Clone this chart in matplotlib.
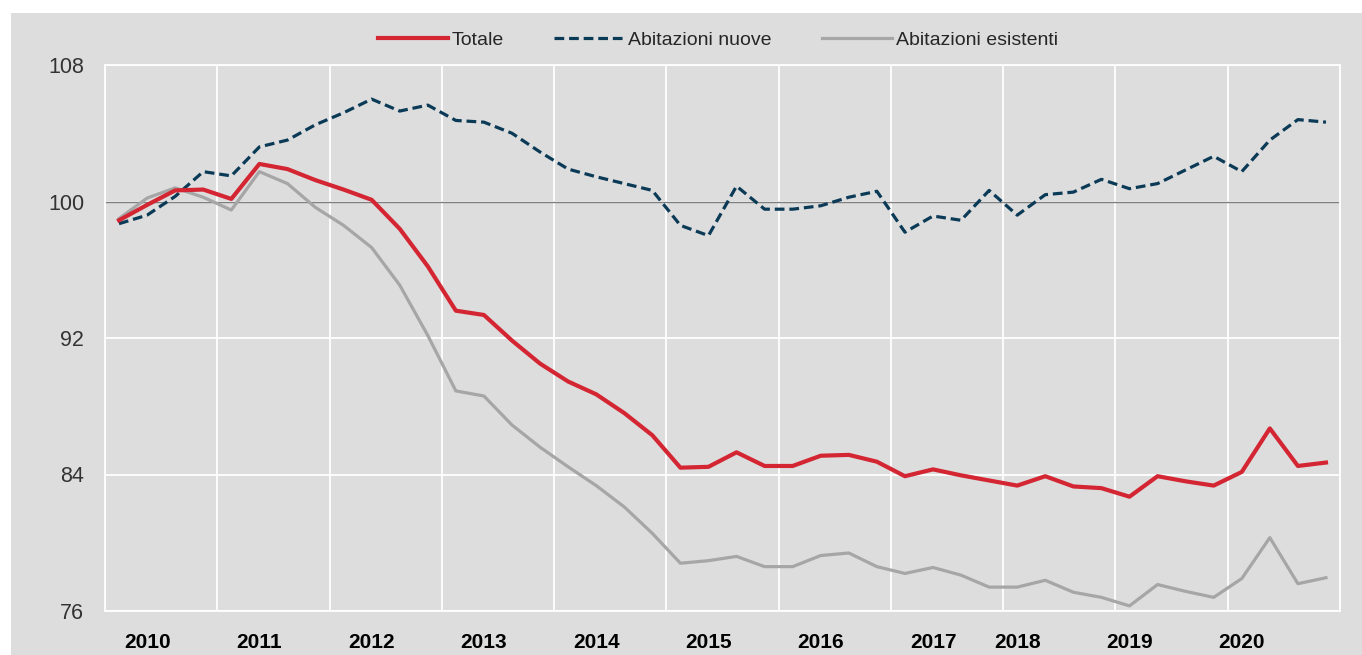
import matplotlib
matplotlib.use("Agg")
import matplotlib.pyplot as plt
from matplotlib.patches import Rectangle
import numpy as np

# trimestrale 2010 T1 - 2020 T4, indice
totale = [98.9, 99.8, 100.65, 100.7, 100.15, 102.2, 101.9, 101.25, 100.7, 100.1,
          98.4, 96.2, 93.6, 93.35, 91.85, 90.5, 89.45, 88.7, 87.6, 86.3,
          84.4, 84.45, 85.3, 84.5, 84.5, 85.1, 85.15, 84.75, 83.9, 84.3,
          83.95, 83.65, 83.35, 83.9, 83.3, 83.2, 82.7, 83.9, 83.6, 83.35,
          84.15, 86.7, 84.5, 84.7]
nuove = [98.7, 99.2, 100.3, 101.75, 101.5, 103.2, 103.6, 104.5, 105.2, 106.0,
         105.3, 105.65, 104.75, 104.65, 104.0, 102.9, 101.9, 101.45, 101.05, 100.65,
         98.6, 98.0, 100.9, 99.55, 99.55, 99.75, 100.25, 100.6, 98.2, 99.15,
         98.9, 100.65, 99.2, 100.4, 100.55, 101.3, 100.75, 101.05, 101.85, 102.65,
         101.75, 103.6, 104.8, 104.65]
esistenti = [99.0, 100.2, 100.8, 100.25, 99.5, 101.75, 101.05, 99.65, 98.6, 97.3,
             95.1, 92.15, 88.9, 88.6, 86.9, 85.6, 84.45, 83.35, 82.1, 80.55,
             78.8, 78.95, 79.2, 78.6, 78.6, 79.25, 79.4, 78.6, 78.2, 78.55,
             78.1, 77.4, 77.4, 77.8, 77.1, 76.8, 76.3, 77.55, 77.15, 76.8,
             77.9, 80.3, 77.6, 77.95]

anni = ["2010", "2011", "2012", "2013", "2014", "2015", "2016", "2017", "2018", "2019", "2020"]
pos_anni = [1, 5, 9, 13, 17, 21, 25, 29, 32, 36, 40]
y_ticks = [76, 84, 92, 100, 108]

plt.rcParams['font.family'] = ['Liberation Sans', 'DejaVu Sans']
plt.rcParams['lines.scale_dashes'] = False

bg = '#dddddd'
fig = plt.figure(figsize=(13.62, 6.55), dpi=100, facecolor='white')
fig.patches.append(Rectangle((11/1362, 0), 1, 1 - 13/655, transform=fig.transFigure,
                             facecolor=bg, edgecolor='none', zorder=-10))
ax = fig.add_axes([105/1362, 1 - 611/655, (1340 - 105)/1362, (611 - 65)/655])
ax.set_facecolor(bg)

x = np.arange(len(totale))
ax.axhline(100, color='#7f7f7f', lw=1.0, zorder=2)
ax.plot(x, esistenti, color='#a6a6a6', lw=2.3, label='Abitazioni esistenti', zorder=3)
ax.plot(x, nuove, color='#0b3a57', lw=2.3, dashes=(7, 3.5), dash_capstyle='butt',
        label='Abitazioni nuove', zorder=4)
ax.plot(x, totale, color='#d42533', lw=3.0, label='Totale', zorder=5)

ax.set_xlim(-0.5, 43.5)
ax.set_ylim(76, 108)
ax.set_yticks(y_ticks)
ax.set_yticklabels([str(v) for v in y_ticks], fontsize=15.5, color='#333333')
ax.set_xticks(pos_anni)
ax.set_xticklabels(anni, fontsize=15, fontweight='bold', color='black')
ax.set_xticks(np.arange(-0.5, 44, 4), minor=True)
ax.tick_params(axis='both', which='both', length=0)
ax.tick_params(axis='y', pad=15)
ax.tick_params(axis='x', pad=16)
ax.grid(axis='y', which='major', color='white', lw=1.3, zorder=1)
ax.grid(axis='x', which='minor', color='white', lw=1.3, zorder=1)
ax.set_axisbelow(True)
for s in ax.spines.values():
    s.set_color('white')
    s.set_linewidth(1.3)

h, l = ax.get_legend_handles_labels()
order = [2, 1, 0]
fig.legend([h[i] for i in order], [l[i] for i in order], loc='center',
           bbox_to_anchor=(718/1362, 1 - 40/655), ncol=3, frameon=False,
           fontsize=14, handlelength=3.6, columnspacing=2.6, handletextpad=0.2,
           labelcolor='#262626')

fig.savefig('out.png', dpi=100, facecolor='white')
